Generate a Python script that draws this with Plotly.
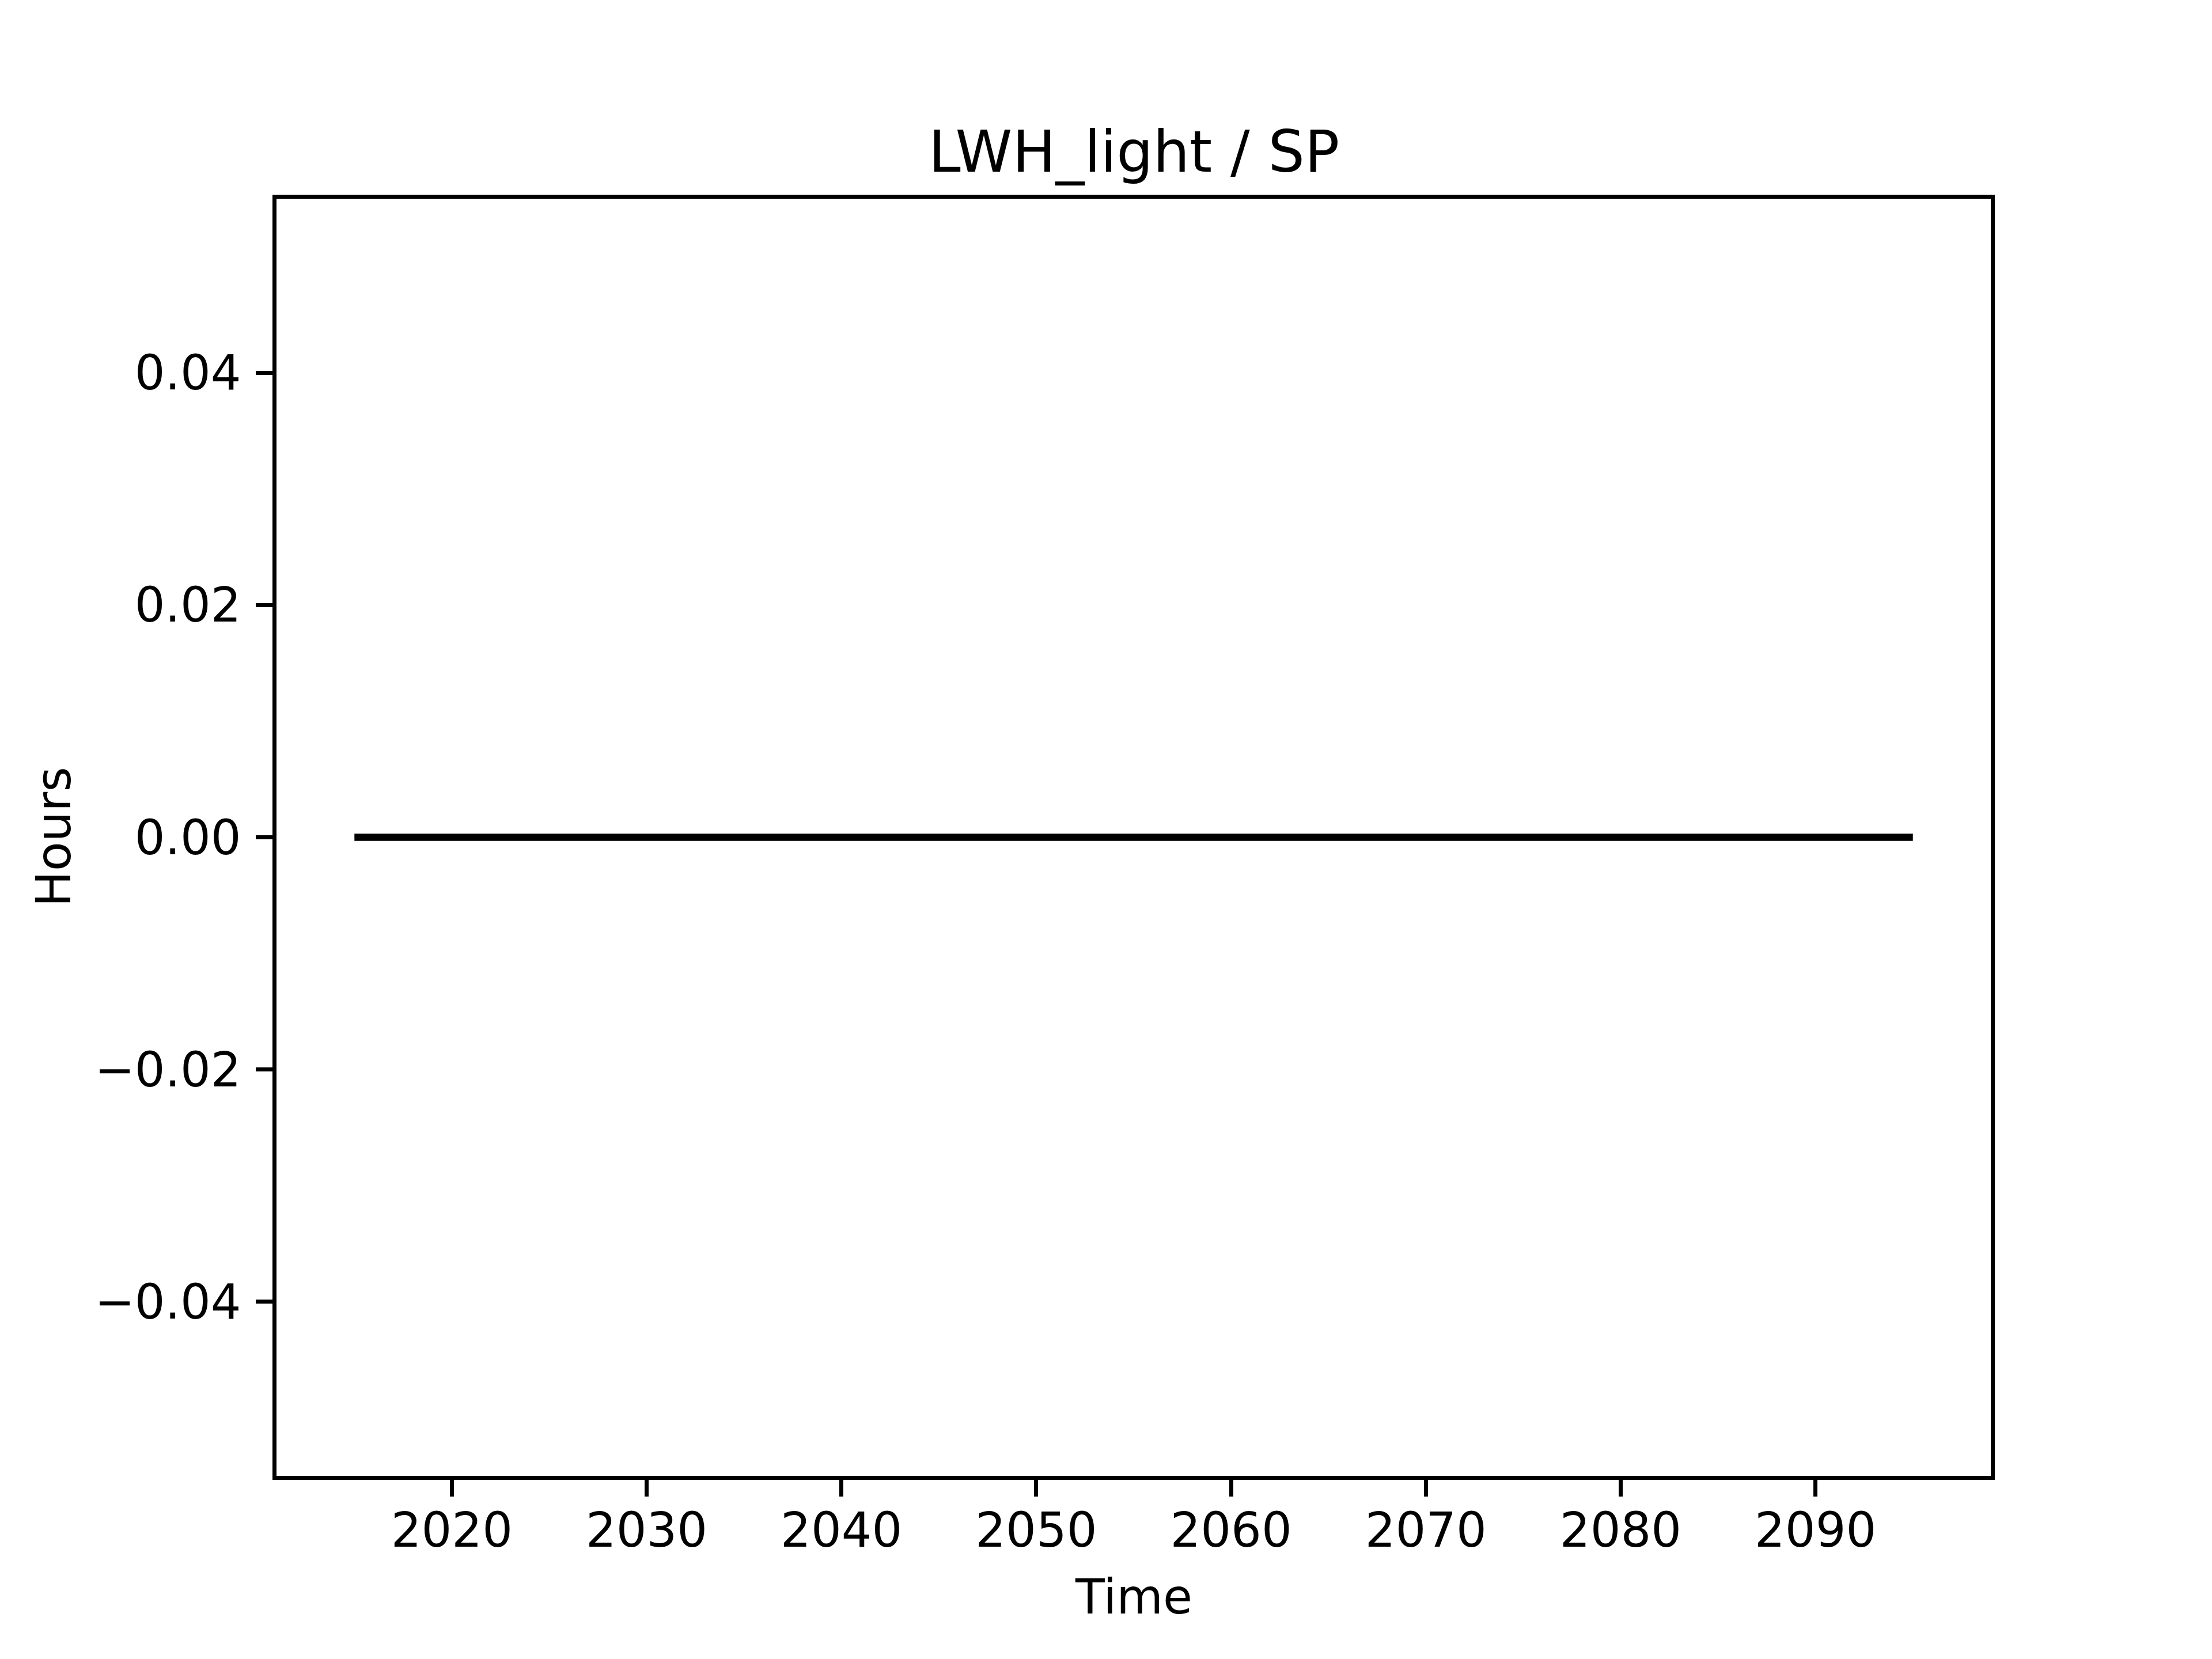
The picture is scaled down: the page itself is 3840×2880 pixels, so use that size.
import plotly.graph_objects as go

# Data
years = [2015, 2020, 2025, 2030, 2035, 2040, 2045, 2050, 2055,
         2060, 2065, 2070, 2075, 2080, 2085, 2090, 2095]
hours = [0.0, 0.0, 0.0, 0.0, 0.0, 0.0, 0.0, 0.0, 0.0,
         0.0, 0.0, 0.0, 0.0, 0.0, 0.0, 0.0, 0.0]

x_ticks = [2020, 2030, 2040, 2050, 2060, 2070, 2080, 2090]
y_ticks = [-0.04, -0.02, 0.0, 0.02, 0.04]
y_ticktext = ["\u22120.04", "\u22120.02", "0.00", "0.02", "0.04"]

title_text = "LWH_light / SP"
x_label = "Time"
y_label = "Hours"

FONT = "DejaVu Sans"
OFF = 8  # default page body margin
W, H = 3840 - OFF, 2880 - OFF
L, R, T, B = 480 - OFF, 384, 345 - OFF, 318

fig = go.Figure()
fig.add_trace(go.Scatter(x=years, y=hours, mode="lines",
                         line=dict(color="black", width=12.5),
                         showlegend=False))

axis_common = dict(
    showline=True, mirror=True, linecolor="black", linewidth=6.7,
    ticks="outside", ticklen=29, tickwidth=6.7, tickcolor="black",
    showgrid=False, zeroline=False,
    tickfont=dict(family=FONT, size=83, color="black"),
)

fig.update_xaxes(range=[2011, 2099], tickvals=x_ticks, ticklabelstandoff=-12,
                 **axis_common)
fig.update_yaxes(range=[-0.055, 0.055], tickvals=y_ticks, ticktext=y_ticktext,
                 ticklabelstandoff=9, **axis_common)

fig.update_layout(
    width=W, height=H, autosize=False,
    margin=dict(l=L, r=R, t=T, b=B, pad=0),
    paper_bgcolor="white", plot_bgcolor="white",
    font=dict(family=FONT, color="black"),
    annotations=[
        dict(text=title_text, x=0.5, y=1, xref="paper", yref="paper",
             xanchor="center", yanchor="bottom", yshift=21, showarrow=False,
             font=dict(family=FONT, size=100, color="black")),
        dict(text=x_label, x=0.5, y=0, xref="paper", yref="paper",
             xanchor="center", yanchor="middle", yshift=-(2772 - 2562),
             showarrow=False, font=dict(family=FONT, size=83, color="black")),
        dict(text=y_label, x=0, y=0.5, xref="paper", yref="paper",
             xanchor="center", yanchor="middle", xshift=-(480 - 93),
             textangle=-90, showarrow=False,
             font=dict(family=FONT, size=83, color="black")),
    ],
)

fig.write_html("out.html")
